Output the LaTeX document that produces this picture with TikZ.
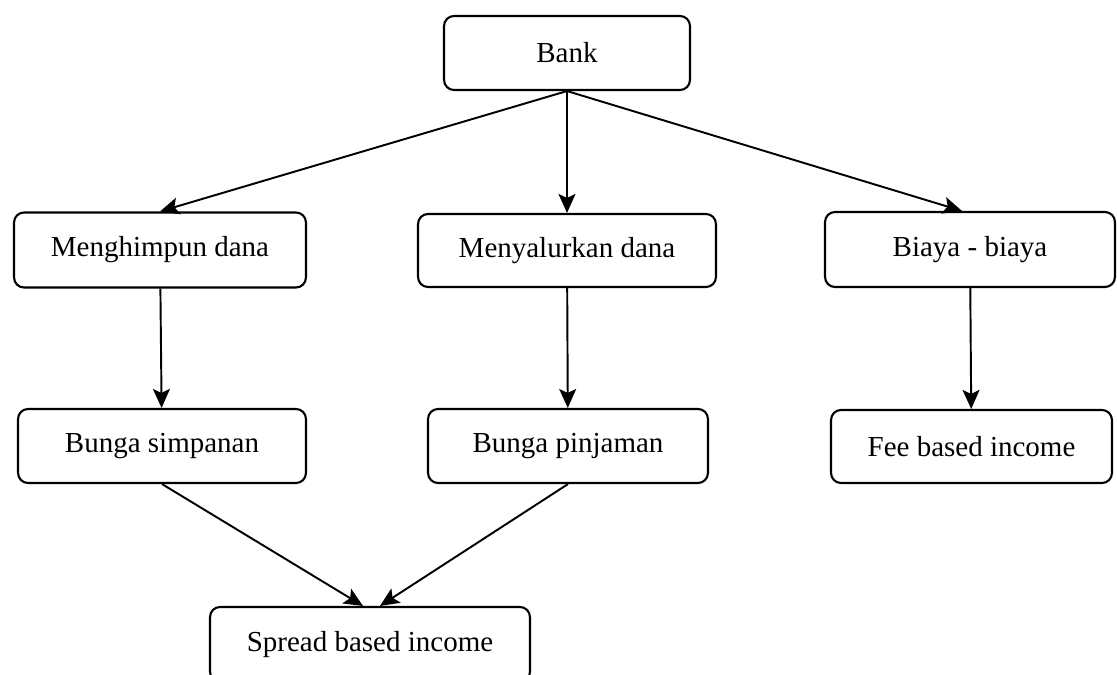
\documentclass[tikz,border=0pt]{standalone}
\usepackage{fontspec}
\setmainfont{Liberation Serif}
\usetikzlibrary{arrows.meta}

\tikzset{
  box/.style={draw, rounded corners=0.2cm, line width=1.2pt, align=center,
    font=\fontsize{16.5}{19}\selectfont, inner sep=0pt},
  link/.style={line width=1.1pt, -{Stealth[length=3.8mm, width=3.4mm, inset=0.8mm]}}
}

\begin{document}
\begin{tikzpicture}[x=0.02cm, y=-0.02cm]

\useasboundingbox (0, 0) rectangle (1117, 675);

\node[box, minimum width=4.92cm, minimum height=1.48cm] (bank) at (567, 53) {Bank};

\node[box, minimum width=5.84cm, minimum height=1.5cm] (menghimpun) at (160, 250) {Menghimpun dana};
\node[box, minimum width=5.96cm, minimum height=1.46cm] (menyalurkan) at (567, 250.5) {Menyalurkan dana};
\node[box, minimum width=5.8cm, minimum height=1.5cm] (biaya) at (970, 249.5) {Biaya - biaya};

\node[box, minimum width=5.76cm, minimum height=1.48cm] (simpanan) at (162, 446) {Bunga simpanan};
\node[box, minimum width=5.6cm, minimum height=1.48cm] (pinjaman) at (568, 446) {Bunga pinjaman};
\node[box, minimum width=5.62cm, minimum height=1.46cm] (fee) at (971.5, 446.5) {Fee based income};

\node[box, minimum width=6.4cm, minimum height=1.5cm] (spread) at (370, 644.5) {Spread based income};

\draw[link] (bank.south) -- (menghimpun.north);
\draw[link] (bank.south) -- (menyalurkan.north);
\draw[link] (bank.south) -- ([xshift=-0.16cm]biaya.north);

\draw[link] (menghimpun) -- (simpanan);
\draw[link] (menyalurkan) -- (pinjaman);
\draw[link] (biaya) -- (fee);

\draw[link] (simpanan.south) -- ([xshift=-0.14cm]spread.north);
\draw[link] (pinjaman.south) -- ([xshift=0.2cm]spread.north);

\end{tikzpicture}
\end{document}
